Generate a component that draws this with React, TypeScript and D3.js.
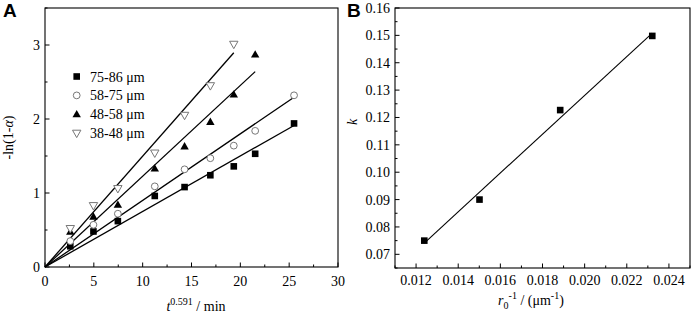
import React from "react";
import * as d3 from "d3";

// ---------- Panel A data ----------
const tValues = [2.59, 4.96, 7.46, 11.24, 14.29, 16.93, 19.33, 21.52, 25.5];
const seriesNames = ["75-86 μm", "58-75 μm", "48-58 μm", "38-48 μm"];
const s7586 = [0.28, 0.48, 0.62, 0.96, 1.08, 1.24, 1.36, 1.53, 1.94];
const s5875 = [0.35, 0.57, 0.72, 1.09, 1.32, 1.47, 1.64, 1.84, 2.32];
const s4858 = [0.475, 0.68, 0.84, 1.33, 1.63, 1.96, 2.33, 2.87];
const s3848 = [0.52, 0.83, 1.06, 1.54, 2.05, 2.45, 3.01];
const xTicksA = [0, 5, 10, 15, 20, 25, 30];
const yTicksA = [0, 1, 2, 3];

// ---------- Panel B data ----------
const invR0 = [0.01239, 0.01501, 0.01884, 0.02321];
const kValues = [0.075, 0.09, 0.1227, 0.1498];
const xTicksB = [0.012, 0.014, 0.016, 0.018, 0.02, 0.022, 0.024];
const yTicksB = [0.07, 0.08, 0.09, 0.1, 0.11, 0.12, 0.13, 0.14, 0.15, 0.16];

const FONT = "'Liberation Serif', 'Times New Roman', serif";

type Marker = "square" | "circle" | "up" | "down";
const markers: Marker[] = ["square", "circle", "up", "down"];
const seriesData = [s7586, s5875, s4858, s3848];

function MarkerShape({ type, x, y }: { type: Marker; x: number; y: number }) {
  if (type === "square")
    return <rect x={x - 3.3} y={y - 3.3} width={6.6} height={6.6} fill="#000" />;
  if (type === "circle")
    return <circle cx={x} cy={y} r={3.4} fill="#fff" stroke="#777" strokeWidth={1} />;
  if (type === "up")
    return (
      <path
        d={`M${x},${y - 4.4}L${x + 4.2},${y + 3}L${x - 4.2},${y + 3}Z`}
        fill="#000"
      />
    );
  return (
    <path
      d={`M${x - 4.2},${y - 3}L${x + 4.2},${y - 3}L${x},${y + 4.4}Z`}
      fill="#fff"
      stroke="#777"
      strokeWidth={1}
    />
  );
}

function PanelA() {
  const L = 45, R = 338, T = 8, B = 267;
  const x = d3.scaleLinear().domain([0, 30]).range([L, R]);
  const y = d3.scaleLinear().domain([0, 3.5]).range([B, T]);
  const minorX = d3.range(0, 30.01, 2.5);
  const minorY = d3.range(0, 3.51, 0.5);
  const line = d3.line<[number, number]>().x((d) => x(d[0])).y((d) => y(d[1]));
  return (
    <g>
      {/* fit lines through origin with slopes k */}
      {seriesData.map((s, i) => {
        const lastX = tValues[s.length - 1];
        return (
          <path
            key={"l" + i}
            d={line([[0, 0], [lastX, kValues[i] * lastX]]) || ""}
            stroke="#000"
            strokeWidth={1.3}
            fill="none"
          />
        );
      })}
      {seriesData.map((s, i) =>
        s.map((v, j) => (
          <MarkerShape key={`m${i}-${j}`} type={markers[i]} x={x(tValues[j])} y={y(v)} />
        ))
      )}
      <rect x={L} y={T} width={R - L} height={B - T} fill="none" stroke="#000" strokeWidth={1.1} />
      {minorX.map((t) => (
        <line key={"mx" + t} x1={x(t)} x2={x(t)} y1={B} y2={B - (t % 5 === 0 ? 4.5 : 2.5)} stroke="#000" />
      ))}
      {minorY.map((t) => (
        <line key={"my" + t} x1={L} x2={L + (t % 1 === 0 ? 4.5 : 2.5)} y1={y(t)} y2={y(t)} stroke="#000" />
      ))}
      {xTicksA.map((t) => (
        <text key={"xt" + t} x={x(t)} y={286} fontSize={14} fontFamily={FONT} textAnchor="middle">
          {t}
        </text>
      ))}
      {yTicksA.map((t) => (
        <text key={"yt" + t} x={L - 5} y={y(t) + 5} fontSize={14} fontFamily={FONT} textAnchor="end">
          {t}
        </text>
      ))}
      {/* legend */}
      {seriesNames.map((n, i) => (
        <g key={"lg" + i}>
          <MarkerShape type={markers[i]} x={76.7} y={76.5 + i * 18.9} />
          <text x={90} y={81.5 + i * 18.9} fontSize={14} fontFamily={FONT}>
            {n}
          </text>
        </g>
      ))}
      <text
        transform={`translate(13,${(T + B) / 2}) rotate(-90)`}
        fontSize={14}
        fontFamily={FONT}
        textAnchor="middle"
      >
        -ln(1-<tspan fontStyle="italic">α</tspan>)
      </text>
      <text x={196} y={311} fontSize={14} fontFamily={FONT} textAnchor="middle">
        <tspan fontStyle="italic">t</tspan>
        <tspan dy={-6} fontSize={10}>0.591</tspan>
        <tspan dy={6}> / min</tspan>
      </text>
      <text x={3} y={17} fontSize={19} fontWeight="bold" fontFamily="'Liberation Sans', Arial, sans-serif">
        A
      </text>
    </g>
  );
}

function PanelB() {
  const L = 395, R = 690, T = 8, B = 268;
  const x = d3.scaleLinear().domain([0.011, 0.025]).range([L, R]);
  const y = d3.scaleLinear().domain([0.065, 0.16]).range([B, T]);
  const mx = d3.mean(invR0)!, my = d3.mean(kValues)!;
  const sxy = d3.sum(invR0.map((v, i) => (v - mx) * (kValues[i] - my)));
  const sxx = d3.sum(invR0.map((v) => (v - mx) ** 2));
  const slope = sxy / sxx;
  const icpt = my - slope * mx;
  const x0 = invR0[0], x1 = invR0[invR0.length - 1];
  const minorX = d3.range(11, 25.01, 1).map((v) => v / 1000);
  const minorY = d3.range(65, 160.01, 5).map((v) => v / 1000);
  return (
    <g>
      <line
        x1={x(x0)}
        y1={y(slope * x0 + icpt)}
        x2={x(x1)}
        y2={y(slope * x1 + icpt)}
        stroke="#000"
        strokeWidth={1.1}
      />
      {invR0.map((v, i) => (
        <MarkerShape key={"p" + i} type="square" x={x(v)} y={y(kValues[i])} />
      ))}
      <rect x={L} y={T} width={R - L} height={B - T} fill="none" stroke="#000" strokeWidth={1.1} />
      {minorX.map((t, i) => (
        <line key={"mx" + i} x1={x(t)} x2={x(t)} y1={B} y2={B - (Math.round(t * 1000) % 2 === 0 ? 4.5 : 2.5)} stroke="#000" />
      ))}
      {minorY.map((t, i) => (
        <line key={"my" + i} x1={L} x2={L + (Math.round(t * 1000) % 10 === 0 ? 4.5 : 2.5)} y1={y(t)} y2={y(t)} stroke="#000" />
      ))}
      {xTicksB.map((t) => (
        <text key={"xt" + t} x={x(t)} y={285} fontSize={14} fontFamily={FONT} textAnchor="middle">
          {d3.format(".3f")(t)}
        </text>
      ))}
      {yTicksB.map((t) => (
        <text key={"yt" + t} x={L - 5} y={y(t) + 5} fontSize={14} fontFamily={FONT} textAnchor="end">
          {d3.format(".2f")(t)}
        </text>
      ))}
      <text
        transform={`translate(357,122) rotate(-90)`}
        fontSize={14}
        fontFamily={FONT}
        fontStyle="italic"
        textAnchor="middle"
      >
        k
      </text>
      <text x={531} y={305} fontSize={14} fontFamily={FONT} textAnchor="middle">
        <tspan fontStyle="italic">r</tspan>
        <tspan dy={4} fontSize={10}>0</tspan>
        <tspan dy={-10} fontSize={10}>-1</tspan>
        <tspan dy={6}> / (μm</tspan>
        <tspan dy={-6} fontSize={10}>-1</tspan>
        <tspan dy={6}>)</tspan>
      </text>
      <text x={347} y={17} fontSize={19} fontWeight="bold" fontFamily="'Liberation Sans', Arial, sans-serif">
        B
      </text>
    </g>
  );
}

export default function App() {
  return (
    <div style={{ position: "fixed", left: 0, top: 0 }}>
      <svg width={692} height={316} style={{ display: "block", background: "#fff" }}>
        <rect width={692} height={316} fill="#fff" />
        <PanelA />
        <PanelB />
      </svg>
    </div>
  );
}
